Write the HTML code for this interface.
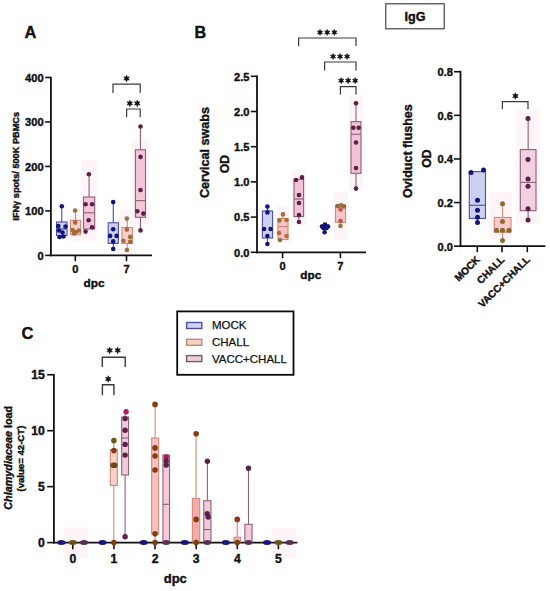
<!DOCTYPE html>
<html><head><meta charset="utf-8"><style>
html,body{margin:0;padding:0;background:#fff;}
body{width:550px;height:591px;overflow:hidden;}
svg{display:block;font-family:"Liberation Sans", sans-serif;}
</style></head><body>
<svg width="550" height="591" viewBox="0 0 550 591">
<rect width="550" height="591" fill="#fff"/>
<text x="24.6" y="38" font-size="16.4" font-weight="bold" text-anchor="start" fill="#111" stroke="#111" stroke-width="0.4"  style="">A</text>
<rect x="69" y="215" width="13" height="26" fill="#fef5f9" opacity="1"/>
<rect x="81" y="160" width="16" height="81" fill="#fef5f9" opacity="1"/>
<rect x="120" y="210" width="15" height="46" fill="#fef5f9" opacity="1"/>
<rect x="132" y="140" width="17" height="85" fill="#fef5f9" opacity="1"/>
<line x1="50.9" y1="76.8" x2="50.9" y2="256.3" stroke="#111" stroke-width="1.8" />
<line x1="45.2" y1="77.48000000000002" x2="50.9" y2="77.48000000000002" stroke="#111" stroke-width="1.6" />
<text x="43.6" y="81.78000000000002" font-size="11.1" font-weight="bold" text-anchor="end" fill="#111" stroke="#111" stroke-width="0.4"  style="">400</text>
<line x1="45.2" y1="121.96000000000001" x2="50.9" y2="121.96000000000001" stroke="#111" stroke-width="1.6" />
<text x="43.6" y="126.26" font-size="11.1" font-weight="bold" text-anchor="end" fill="#111" stroke="#111" stroke-width="0.4"  style="">300</text>
<line x1="45.2" y1="166.44" x2="50.9" y2="166.44" stroke="#111" stroke-width="1.6" />
<text x="43.6" y="170.74" font-size="11.1" font-weight="bold" text-anchor="end" fill="#111" stroke="#111" stroke-width="0.4"  style="">200</text>
<line x1="45.2" y1="210.92000000000002" x2="50.9" y2="210.92000000000002" stroke="#111" stroke-width="1.6" />
<text x="43.6" y="215.22000000000003" font-size="11.1" font-weight="bold" text-anchor="end" fill="#111" stroke="#111" stroke-width="0.4"  style="">100</text>
<line x1="45.2" y1="255.4" x2="50.9" y2="255.4" stroke="#111" stroke-width="1.6" />
<text x="43.6" y="259.7" font-size="11.1" font-weight="bold" text-anchor="end" fill="#111" stroke="#111" stroke-width="0.4"  style="">0</text>
<line x1="50" y1="255.4" x2="152" y2="255.4" stroke="#111" stroke-width="1.7" />
<line x1="75.3" y1="255.4" x2="75.3" y2="261.2" stroke="#111" stroke-width="1.6" />
<text x="75.3" y="273.2" font-size="11.1" font-weight="bold" text-anchor="middle" fill="#111" stroke="#111" stroke-width="0.4"  style="">0</text>
<line x1="126.5" y1="255.4" x2="126.5" y2="261.2" stroke="#111" stroke-width="1.6" />
<text x="126.5" y="273.2" font-size="11.1" font-weight="bold" text-anchor="middle" fill="#111" stroke="#111" stroke-width="0.4"  style="">7</text>
<text x="94" y="287.4" font-size="11.8" font-weight="bold" text-anchor="middle" fill="#111" stroke="#111" stroke-width="0.4"  style="">dpc</text>
<text transform="translate(15.4,166.3) rotate(-90)" x="0" y="3.31" font-size="9.2" font-weight="bold" text-anchor="middle" fill="#111" stroke="#111" stroke-width="0.4">IFNγ spots/ 500K PBMCs</text>
<line x1="61.75" y1="206.2" x2="61.75" y2="222" stroke="#4a4eaa" stroke-width="1.1" />
<line x1="61.75" y1="235.5" x2="61.75" y2="238" stroke="#4a4eaa" stroke-width="1.1" />
<rect x="56.5" y="222" width="10.5" height="13.5" fill="#cdcfef" stroke="#4a4eaa" stroke-width="1.1"/>
<line x1="56.5" y1="229" x2="67" y2="229" stroke="#4a4eaa" stroke-width="1.1" />
<circle cx="61.8" cy="206.2" r="2.3" fill="#14147a"/>
<circle cx="58.3" cy="226" r="2.3" fill="#14147a"/>
<circle cx="65.5" cy="226.5" r="2.3" fill="#14147a"/>
<circle cx="59" cy="230.5" r="2.3" fill="#14147a"/>
<circle cx="62.5" cy="232.5" r="2.3" fill="#14147a"/>
<circle cx="59.5" cy="237" r="2.3" fill="#14147a"/>
<circle cx="63.5" cy="236.5" r="2.3" fill="#14147a"/>
<line x1="75.5" y1="210.5" x2="75.5" y2="220.3" stroke="#d08a78" stroke-width="1.1" />
<rect x="70.5" y="220.3" width="10.0" height="14.399999999999977" fill="#f9d0cc" stroke="#d08a78" stroke-width="1.1"/>
<circle cx="75.1" cy="210.5" r="2.3" fill="#a86a38"/>
<circle cx="75.2" cy="222.6" r="2.3" fill="#a86a38"/>
<circle cx="72.5" cy="230" r="2.3" fill="#a86a38"/>
<circle cx="76" cy="232" r="2.3" fill="#a86a38"/>
<circle cx="79" cy="230.5" r="2.3" fill="#a86a38"/>
<circle cx="74" cy="233.5" r="2.3" fill="#a86a38"/>
<line x1="89.1" y1="174.3" x2="89.1" y2="197" stroke="#8e6078" stroke-width="1.1" />
<rect x="83.5" y="197" width="11.200000000000003" height="32" fill="#f3c6d9" stroke="#8e6078" stroke-width="1.1"/>
<line x1="83.5" y1="212.8" x2="94.7" y2="212.8" stroke="#8e6078" stroke-width="1.1" />
<circle cx="88.9" cy="174.3" r="2.3" fill="#5a2045"/>
<circle cx="85.6" cy="204.2" r="2.3" fill="#5a2045"/>
<circle cx="92.1" cy="204.2" r="2.3" fill="#5a2045"/>
<circle cx="88.6" cy="220.3" r="2.3" fill="#5a2045"/>
<circle cx="92.1" cy="227.3" r="2.3" fill="#5a2045"/>
<circle cx="85.6" cy="231.6" r="2.3" fill="#5a2045"/>
<line x1="113.30000000000001" y1="202.1" x2="113.30000000000001" y2="222.8" stroke="#4a4eaa" stroke-width="1.1" />
<line x1="113.30000000000001" y1="243.4" x2="113.30000000000001" y2="249" stroke="#4a4eaa" stroke-width="1.1" />
<rect x="108.2" y="222.8" width="10.200000000000003" height="20.599999999999994" fill="#cdcfef" stroke="#4a4eaa" stroke-width="1.1"/>
<circle cx="113.2" cy="202.1" r="2.3" fill="#14147a"/>
<circle cx="113.2" cy="229.3" r="2.3" fill="#14147a"/>
<circle cx="110.1" cy="235.9" r="2.3" fill="#14147a"/>
<circle cx="116.6" cy="235.9" r="2.3" fill="#14147a"/>
<circle cx="113.2" cy="241.4" r="2.3" fill="#14147a"/>
<circle cx="113.2" cy="249" r="2.3" fill="#14147a"/>
<line x1="127.25" y1="218.6" x2="127.25" y2="227.5" stroke="#d08a78" stroke-width="1.1" />
<line x1="127.25" y1="243.4" x2="127.25" y2="250" stroke="#d08a78" stroke-width="1.1" />
<rect x="122" y="227.5" width="10.5" height="15.900000000000006" fill="#f9d0cc" stroke="#d08a78" stroke-width="1.1"/>
<circle cx="126.9" cy="218.6" r="2.3" fill="#8f7a3a"/>
<circle cx="126.9" cy="229.6" r="2.3" fill="#a86a38"/>
<circle cx="130.2" cy="236.9" r="2.3" fill="#9a7035"/>
<circle cx="123.4" cy="240.8" r="2.3" fill="#a86a38"/>
<circle cx="130.2" cy="241.9" r="2.3" fill="#9a7035"/>
<circle cx="126.9" cy="250" r="2.3" fill="#a86a38"/>
<line x1="140.45" y1="126.5" x2="140.45" y2="149.8" stroke="#8e6078" stroke-width="1.1" />
<line x1="140.45" y1="217.3" x2="140.45" y2="230.4" stroke="#8e6078" stroke-width="1.1" />
<rect x="135.4" y="149.8" width="10.099999999999994" height="67.5" fill="#f3c6d9" stroke="#8e6078" stroke-width="1.1"/>
<line x1="135.4" y1="200.6" x2="145.5" y2="200.6" stroke="#8e6078" stroke-width="1.1" />
<circle cx="140.5" cy="126.5" r="2.3" fill="#5a2045"/>
<circle cx="140.5" cy="156.9" r="2.3" fill="#5a2045"/>
<circle cx="140.5" cy="190" r="2.3" fill="#5a2045"/>
<circle cx="137.3" cy="211.2" r="2.3" fill="#5a2045"/>
<circle cx="143.3" cy="213.6" r="2.3" fill="#5a2045"/>
<circle cx="140.5" cy="230.4" r="2.3" fill="#5a2045"/>
<polyline points="113,93 113,84.2 140.2,84.2 140.2,93" fill="none" stroke="#3a3a3a" stroke-width="1.2"/>
<polygon points="126.60,75.25 127.41,77.09 129.41,76.88 128.22,78.50 129.41,80.12 127.41,79.91 126.60,81.75 125.79,79.91 123.79,80.12 124.97,78.50 123.79,76.88 125.79,77.09" fill="#111" stroke="#111" stroke-width="0.5" stroke-linejoin="round"/>
<polyline points="126.6,117.3 126.6,109 140.2,109 140.2,117.3" fill="none" stroke="#3a3a3a" stroke-width="1.2"/>
<polygon points="129.80,100.15 130.61,101.99 132.61,101.78 131.43,103.40 132.61,105.03 130.61,104.81 129.80,106.65 128.99,104.81 126.99,105.03 128.18,103.40 126.99,101.78 128.99,101.99" fill="#111" stroke="#111" stroke-width="0.5" stroke-linejoin="round"/>
<polygon points="137.20,100.15 138.01,101.99 140.01,101.78 138.83,103.40 140.01,105.03 138.01,104.81 137.20,106.65 136.39,104.81 134.39,105.03 135.58,103.40 134.39,101.78 136.39,101.99" fill="#111" stroke="#111" stroke-width="0.5" stroke-linejoin="round"/>
<text x="194.6" y="37.7" font-size="16.2" font-weight="bold" text-anchor="start" fill="#111" stroke="#111" stroke-width="0.4"  style="">B</text>
<rect x="276" y="206" width="14" height="37" fill="#fef5f9" opacity="1"/>
<rect x="292" y="170" width="14" height="55" fill="#fef5f9" opacity="1"/>
<rect x="334" y="192" width="14" height="48" fill="#fef5f9" opacity="1"/>
<rect x="349" y="95" width="14" height="95" fill="#fef5f9" opacity="1"/>
<line x1="257" y1="75.4" x2="257" y2="253.2" stroke="#111" stroke-width="1.8" />
<line x1="250.8" y1="76.30000000000001" x2="257" y2="76.30000000000001" stroke="#111" stroke-width="1.6" />
<text x="249.4" y="80.50000000000001" font-size="11.1" font-weight="bold" text-anchor="end" fill="#111" stroke="#111" stroke-width="0.4"  style="">2.5</text>
<line x1="250.8" y1="111.5" x2="257" y2="111.5" stroke="#111" stroke-width="1.6" />
<text x="249.4" y="115.7" font-size="11.1" font-weight="bold" text-anchor="end" fill="#111" stroke="#111" stroke-width="0.4"  style="">2.0</text>
<line x1="250.8" y1="146.7" x2="257" y2="146.7" stroke="#111" stroke-width="1.6" />
<text x="249.4" y="150.89999999999998" font-size="11.1" font-weight="bold" text-anchor="end" fill="#111" stroke="#111" stroke-width="0.4"  style="">1.5</text>
<line x1="250.8" y1="181.9" x2="257" y2="181.9" stroke="#111" stroke-width="1.6" />
<text x="249.4" y="186.1" font-size="11.1" font-weight="bold" text-anchor="end" fill="#111" stroke="#111" stroke-width="0.4"  style="">1.0</text>
<line x1="250.8" y1="217.10000000000002" x2="257" y2="217.10000000000002" stroke="#111" stroke-width="1.6" />
<text x="249.4" y="221.3" font-size="11.1" font-weight="bold" text-anchor="end" fill="#111" stroke="#111" stroke-width="0.4"  style="">0.5</text>
<line x1="250.8" y1="252.3" x2="257" y2="252.3" stroke="#111" stroke-width="1.6" />
<text x="249.4" y="256.5" font-size="11.1" font-weight="bold" text-anchor="end" fill="#111" stroke="#111" stroke-width="0.4"  style="">0.0</text>
<line x1="256.1" y1="252.3" x2="366" y2="252.3" stroke="#111" stroke-width="1.8" />
<line x1="282.6" y1="252.3" x2="282.6" y2="258.2" stroke="#111" stroke-width="1.6" />
<text x="282.6" y="270" font-size="11.1" font-weight="bold" text-anchor="middle" fill="#111" stroke="#111" stroke-width="0.4"  style="">0</text>
<line x1="340.4" y1="252.3" x2="340.4" y2="258.2" stroke="#111" stroke-width="1.6" />
<text x="340.4" y="270" font-size="11.1" font-weight="bold" text-anchor="middle" fill="#111" stroke="#111" stroke-width="0.4"  style="">7</text>
<text x="310.8" y="278.6" font-size="11.8" font-weight="bold" text-anchor="middle" fill="#111" stroke="#111" stroke-width="0.4"  style="">dpc</text>
<text transform="translate(204.9,152.6) rotate(-90)" x="0" y="4.54" font-size="12.6" font-weight="bold" text-anchor="middle" fill="#111" stroke="#111" stroke-width="0.4">Cervical swabs</text>
<text transform="translate(224.2,164) rotate(-90)" x="0" y="4.39" font-size="12.2" font-weight="bold" text-anchor="middle" fill="#111" stroke="#111" stroke-width="0.4">OD</text>
<line x1="267.5" y1="206.6" x2="267.5" y2="211" stroke="#4a4eaa" stroke-width="1.1" />
<line x1="267.5" y1="238" x2="267.5" y2="244" stroke="#4a4eaa" stroke-width="1.1" />
<rect x="262.4" y="211" width="10.200000000000045" height="27" fill="#cdcfef" stroke="#4a4eaa" stroke-width="1.1"/>
<circle cx="267.4" cy="206.6" r="2.3" fill="#14147a"/>
<circle cx="267.4" cy="212.4" r="2.3" fill="#14147a"/>
<circle cx="264" cy="229" r="2.3" fill="#14147a"/>
<circle cx="270.6" cy="229" r="2.3" fill="#14147a"/>
<circle cx="267.4" cy="236" r="2.3" fill="#14147a"/>
<circle cx="267.4" cy="244" r="2.3" fill="#14147a"/>
<line x1="283.0" y1="214.4" x2="283.0" y2="218.6" stroke="#d08a78" stroke-width="1.1" />
<rect x="278" y="218.6" width="10" height="20.900000000000006" fill="#f8c2c6" stroke="#d08a78" stroke-width="1.1"/>
<line x1="278" y1="226.6" x2="288" y2="226.6" stroke="#d08a78" stroke-width="1.1" />
<circle cx="283" cy="214.4" r="2.3" fill="#b8683a"/>
<circle cx="279.5" cy="220.4" r="2.3" fill="#8a7a3a"/>
<circle cx="286.5" cy="220" r="2.3" fill="#b8683a"/>
<circle cx="279" cy="233" r="2.3" fill="#b8683a"/>
<circle cx="286.5" cy="236" r="2.3" fill="#b8683a"/>
<circle cx="280" cy="240" r="2.3" fill="#8a7a3a"/>
<line x1="298.8" y1="216.6" x2="298.8" y2="222" stroke="#8e6078" stroke-width="1.1" />
<rect x="294" y="179.3" width="9.600000000000023" height="37.29999999999998" fill="#f4c2d6" stroke="#8e6078" stroke-width="1.1"/>
<line x1="294" y1="199" x2="303.6" y2="199" stroke="#8e6078" stroke-width="1.1" />
<circle cx="296" cy="180" r="2.3" fill="#5a2045"/>
<circle cx="302" cy="177.4" r="2.3" fill="#5a2045"/>
<circle cx="299" cy="195" r="2.3" fill="#5a2045"/>
<circle cx="299" cy="203" r="2.3" fill="#5a2045"/>
<circle cx="299" cy="215" r="2.3" fill="#5a2045"/>
<circle cx="299" cy="222" r="2.3" fill="#5a2045"/>
<line x1="325.0" y1="228" x2="325.0" y2="232.3" stroke="#4a4eaa" stroke-width="1.1" />
<rect x="321.5" y="225" width="7.0" height="3" fill="#cdcfef" stroke="#4a4eaa" stroke-width="1.1"/>
<circle cx="322" cy="226.5" r="2.3" fill="#14147a"/>
<circle cx="325" cy="224.6" r="2.3" fill="#14147a"/>
<circle cx="328" cy="226.5" r="2.3" fill="#14147a"/>
<circle cx="323.5" cy="228" r="2.3" fill="#14147a"/>
<circle cx="326.5" cy="228" r="2.3" fill="#14147a"/>
<circle cx="324.6" cy="232.3" r="2.3" fill="#14147a"/>
<line x1="340.5" y1="222.3" x2="340.5" y2="226" stroke="#d08a78" stroke-width="1.1" />
<rect x="335.5" y="205.5" width="10.0" height="16.80000000000001" fill="#f9c4c8" stroke="#d08a78" stroke-width="1.1"/>
<circle cx="337.6" cy="206" r="2.3" fill="#8a6a3a"/>
<circle cx="341" cy="205.2" r="2.3" fill="#a86a40"/>
<circle cx="344" cy="206.4" r="2.3" fill="#8a6a3a"/>
<circle cx="340.5" cy="209.5" r="2.3" fill="#c05a48"/>
<circle cx="340.5" cy="221" r="2.3" fill="#c05a48"/>
<circle cx="340.5" cy="226" r="2.3" fill="#8a7a3a"/>
<line x1="356.0" y1="103.2" x2="356.0" y2="121.6" stroke="#8e6078" stroke-width="1.1" />
<line x1="356.0" y1="173.3" x2="356.0" y2="188.6" stroke="#8e6078" stroke-width="1.1" />
<rect x="351" y="121.6" width="10" height="51.70000000000002" fill="#f4c2d6" stroke="#8e6078" stroke-width="1.1"/>
<line x1="351" y1="134.3" x2="361" y2="134.3" stroke="#8e6078" stroke-width="1.1" />
<circle cx="356" cy="103.2" r="2.3" fill="#5a2045"/>
<circle cx="353.3" cy="127.8" r="2.3" fill="#5a2045"/>
<circle cx="358.7" cy="127.8" r="2.3" fill="#5a2045"/>
<circle cx="356" cy="142.5" r="2.3" fill="#5a2045"/>
<circle cx="356" cy="168.1" r="2.3" fill="#5a2045"/>
<circle cx="356" cy="188.6" r="2.3" fill="#5a2045"/>
<polyline points="298.6,46 298.6,38 356,38 356,46" fill="none" stroke="#3a3a3a" stroke-width="1.2"/>
<polygon points="320.00,29.35 320.76,31.08 322.64,30.88 321.52,32.40 322.64,33.92 320.76,33.72 320.00,35.45 319.24,33.72 317.36,33.92 318.48,32.40 317.36,30.87 319.24,31.08" fill="#111" stroke="#111" stroke-width="0.5" stroke-linejoin="round"/>
<polygon points="327.20,29.35 327.96,31.08 329.84,30.88 328.72,32.40 329.84,33.92 327.96,33.72 327.20,35.45 326.44,33.72 324.56,33.92 325.68,32.40 324.56,30.87 326.44,31.08" fill="#111" stroke="#111" stroke-width="0.5" stroke-linejoin="round"/>
<polygon points="334.40,29.35 335.16,31.08 337.04,30.88 335.92,32.40 337.04,33.92 335.16,33.72 334.40,35.45 333.64,33.72 331.76,33.92 332.88,32.40 331.76,30.87 333.64,31.08" fill="#111" stroke="#111" stroke-width="0.5" stroke-linejoin="round"/>
<polyline points="324.6,70.4 324.6,62 356,62 356,70.4" fill="none" stroke="#3a3a3a" stroke-width="1.2"/>
<polygon points="333.10,53.45 333.86,55.18 335.74,54.98 334.62,56.50 335.74,58.02 333.86,57.82 333.10,59.55 332.34,57.82 330.46,58.02 331.58,56.50 330.46,54.98 332.34,55.18" fill="#111" stroke="#111" stroke-width="0.5" stroke-linejoin="round"/>
<polygon points="340.10,53.45 340.86,55.18 342.74,54.98 341.62,56.50 342.74,58.02 340.86,57.82 340.10,59.55 339.34,57.82 337.46,58.02 338.58,56.50 337.46,54.98 339.34,55.18" fill="#111" stroke="#111" stroke-width="0.5" stroke-linejoin="round"/>
<polygon points="347.10,53.45 347.86,55.18 349.74,54.98 348.62,56.50 349.74,58.02 347.86,57.82 347.10,59.55 346.34,57.82 344.46,58.02 345.58,56.50 344.46,54.98 346.34,55.18" fill="#111" stroke="#111" stroke-width="0.5" stroke-linejoin="round"/>
<polyline points="340.4,94.4 340.4,86.6 356,86.6 356,94.4" fill="none" stroke="#3a3a3a" stroke-width="1.2"/>
<polygon points="341.20,77.55 341.96,79.28 343.84,79.07 342.72,80.60 343.84,82.12 341.96,81.92 341.20,83.65 340.44,81.92 338.56,82.12 339.68,80.60 338.56,79.07 340.44,79.28" fill="#111" stroke="#111" stroke-width="0.5" stroke-linejoin="round"/>
<polygon points="348.20,77.55 348.96,79.28 350.84,79.07 349.72,80.60 350.84,82.12 348.96,81.92 348.20,83.65 347.44,81.92 345.56,82.12 346.68,80.60 345.56,79.07 347.44,79.28" fill="#111" stroke="#111" stroke-width="0.5" stroke-linejoin="round"/>
<polygon points="355.20,77.55 355.96,79.28 357.84,79.07 356.72,80.60 357.84,82.12 355.96,81.92 355.20,83.65 354.44,81.92 352.56,82.12 353.68,80.60 352.56,79.07 354.44,79.28" fill="#111" stroke="#111" stroke-width="0.5" stroke-linejoin="round"/>
<rect x="385.8" y="3.8" width="58.4" height="25" fill="none" stroke="#333" stroke-width="1.1"/>
<text x="415" y="20.5" font-size="12.6" font-weight="bold" text-anchor="middle" fill="#111" stroke="#111" stroke-width="0.4"  style="">IgG</text>
<rect x="488.6" y="192.5" width="23.19999999999999" height="47.099999999999994" fill="#fef5f9" opacity="1"/>
<rect x="516" y="110" width="24" height="114" fill="#fef5f9" opacity="1"/>
<line x1="460.5" y1="70.8" x2="460.5" y2="247.1" stroke="#111" stroke-width="1.8" />
<line x1="454" y1="71.71999999999997" x2="460.5" y2="71.71999999999997" stroke="#111" stroke-width="1.6" />
<text x="453.0" y="76.01999999999997" font-size="11.1" font-weight="bold" text-anchor="end" fill="#111" stroke="#111" stroke-width="0.4"  style="">0.8</text>
<line x1="454" y1="115.34" x2="460.5" y2="115.34" stroke="#111" stroke-width="1.6" />
<text x="453.0" y="119.64" font-size="11.1" font-weight="bold" text-anchor="end" fill="#111" stroke="#111" stroke-width="0.4"  style="">0.6</text>
<line x1="454" y1="158.95999999999998" x2="460.5" y2="158.95999999999998" stroke="#111" stroke-width="1.6" />
<text x="453.0" y="163.26" font-size="11.1" font-weight="bold" text-anchor="end" fill="#111" stroke="#111" stroke-width="0.4"  style="">0.4</text>
<line x1="454" y1="202.57999999999998" x2="460.5" y2="202.57999999999998" stroke="#111" stroke-width="1.6" />
<text x="453.0" y="206.88" font-size="11.1" font-weight="bold" text-anchor="end" fill="#111" stroke="#111" stroke-width="0.4"  style="">0.2</text>
<line x1="454" y1="246.2" x2="460.5" y2="246.2" stroke="#111" stroke-width="1.6" />
<text x="453.0" y="250.5" font-size="11.1" font-weight="bold" text-anchor="end" fill="#111" stroke="#111" stroke-width="0.4"  style="">0.0</text>
<line x1="459.6" y1="246.2" x2="545.4" y2="246.2" stroke="#111" stroke-width="1.8" />
<line x1="477.3" y1="246.2" x2="477.3" y2="252.2" stroke="#111" stroke-width="1.6" />
<line x1="502" y1="246.2" x2="502" y2="252.2" stroke="#111" stroke-width="1.6" />
<line x1="527.3" y1="246.2" x2="527.3" y2="252.2" stroke="#111" stroke-width="1.6" />
<text transform="translate(480.5,260.3) rotate(-45)" x="0" y="0" font-size="10.1" font-weight="bold" text-anchor="end" fill="#111" stroke="#111" stroke-width="0.4">MOCK</text>
<text transform="translate(505.2,260.3) rotate(-45)" x="0" y="0" font-size="10.1" font-weight="bold" text-anchor="end" fill="#111" stroke="#111" stroke-width="0.4">CHALL</text>
<text transform="translate(530.5,260.3) rotate(-45)" x="0" y="0" font-size="10.1" font-weight="bold" text-anchor="end" fill="#111" stroke="#111" stroke-width="0.4">VACC+CHALL</text>
<text transform="translate(407.5,151.1) rotate(-90)" x="0" y="4.50" font-size="12.5" font-weight="bold" text-anchor="middle" fill="#111" stroke="#111" stroke-width="0.4">Oviduct flushes</text>
<text transform="translate(427.1,158.6) rotate(-90)" x="0" y="4.39" font-size="12.2" font-weight="bold" text-anchor="middle" fill="#111" stroke="#111" stroke-width="0.4">OD</text>
<line x1="477.4" y1="218.4" x2="477.4" y2="222.6" stroke="#4a4eaa" stroke-width="1.1" />
<rect x="469.3" y="171.6" width="16.19999999999999" height="46.80000000000001" fill="#cdcfef" stroke="#4a4eaa" stroke-width="1.1"/>
<line x1="469.3" y1="205.3" x2="485.5" y2="205.3" stroke="#4a4eaa" stroke-width="1.1" />
<circle cx="471" cy="172.5" r="2.5" fill="#14147a"/>
<circle cx="483.5" cy="170" r="2.5" fill="#14147a"/>
<circle cx="477.5" cy="200.2" r="2.5" fill="#14147a"/>
<circle cx="477.5" cy="210.2" r="2.5" fill="#14147a"/>
<circle cx="477.5" cy="217.2" r="2.5" fill="#14147a"/>
<circle cx="477.5" cy="222.6" r="2.5" fill="#14147a"/>
<line x1="502.65" y1="203.7" x2="502.65" y2="217.5" stroke="#d08a78" stroke-width="1.1" />
<line x1="502.65" y1="232.3" x2="502.65" y2="240.4" stroke="#d08a78" stroke-width="1.1" />
<rect x="494.3" y="217.5" width="16.69999999999999" height="14.800000000000011" fill="#f9cacc" stroke="#d08a78" stroke-width="1.1"/>
<line x1="494.3" y1="231.2" x2="511" y2="231.2" stroke="#d08a78" stroke-width="1.1" />
<circle cx="502.5" cy="203.7" r="2.5" fill="#8f6a30"/>
<circle cx="502.5" cy="221.5" r="2.5" fill="#8f6a30"/>
<circle cx="496.5" cy="230.3" r="2.5" fill="#8f6a30"/>
<circle cx="502.5" cy="230.3" r="2.5" fill="#8f6a30"/>
<circle cx="509" cy="230.3" r="2.5" fill="#8f6a30"/>
<circle cx="502.5" cy="240.4" r="2.5" fill="#8f6a30"/>
<line x1="528.15" y1="118.4" x2="528.15" y2="149.6" stroke="#8e6078" stroke-width="1.1" />
<line x1="528.15" y1="210.7" x2="528.15" y2="220" stroke="#8e6078" stroke-width="1.1" />
<rect x="520.3" y="149.6" width="15.700000000000045" height="61.099999999999994" fill="#f2d0df" stroke="#8e6078" stroke-width="1.1"/>
<line x1="520.3" y1="182.4" x2="536" y2="182.4" stroke="#8e6078" stroke-width="1.1" />
<circle cx="528" cy="118.4" r="2.5" fill="#5a2045"/>
<circle cx="528" cy="159.4" r="2.5" fill="#5a2045"/>
<circle cx="528" cy="179" r="2.5" fill="#5a2045"/>
<circle cx="528" cy="186.3" r="2.5" fill="#5a2045"/>
<circle cx="528" cy="208.7" r="2.5" fill="#5a2045"/>
<circle cx="528" cy="220" r="2.5" fill="#5a2045"/>
<polyline points="502.4,109 502.4,101.6 528,101.6 528,109" fill="none" stroke="#3a3a3a" stroke-width="1.2"/>
<polygon points="515.40,92.75 516.21,94.59 518.21,94.38 517.02,96.00 518.21,97.62 516.21,97.41 515.40,99.25 514.59,97.41 512.59,97.62 513.77,96.00 512.59,94.38 514.59,94.59" fill="#111" stroke="#111" stroke-width="0.5" stroke-linejoin="round"/>
<text x="21.6" y="339.2" font-size="16.5" font-weight="bold" text-anchor="start" fill="#111" stroke="#111" stroke-width="0.4"  style="">C</text>
<rect x="63.8" y="527.4" width="24.200000000000003" height="31.200000000000045" fill="#fef5f9" opacity="1"/>
<rect x="231.8" y="512" width="10.0" height="30" fill="#fef5f9" opacity="1"/>
<rect x="272" y="528" width="24" height="30" fill="#fef5f9" opacity="1"/>
<line x1="53.9" y1="373.9" x2="53.9" y2="543.4" stroke="#111" stroke-width="1.8" />
<line x1="47.2" y1="374.75" x2="53.9" y2="374.75" stroke="#111" stroke-width="1.6" />
<text x="44.8" y="379.15" font-size="12.2" font-weight="bold" text-anchor="end" fill="#111" stroke="#111" stroke-width="0.4"  style="">15</text>
<line x1="47.2" y1="430.70000000000005" x2="53.9" y2="430.70000000000005" stroke="#111" stroke-width="1.6" />
<text x="44.8" y="435.1" font-size="12.2" font-weight="bold" text-anchor="end" fill="#111" stroke="#111" stroke-width="0.4"  style="">10</text>
<line x1="47.2" y1="486.65000000000003" x2="53.9" y2="486.65000000000003" stroke="#111" stroke-width="1.6" />
<text x="44.8" y="491.05" font-size="12.2" font-weight="bold" text-anchor="end" fill="#111" stroke="#111" stroke-width="0.4"  style="">5</text>
<line x1="47.2" y1="542.6" x2="53.9" y2="542.6" stroke="#111" stroke-width="1.6" />
<text x="44.8" y="547.0" font-size="12.2" font-weight="bold" text-anchor="end" fill="#111" stroke="#111" stroke-width="0.4"  style="">0</text>
<line x1="53.0" y1="542.6" x2="297.3" y2="542.6" stroke="#111" stroke-width="1.8" />
<line x1="72.8" y1="542.6" x2="72.8" y2="549.2" stroke="#111" stroke-width="1.6" />
<text x="72.8" y="563" font-size="12.2" font-weight="bold" text-anchor="middle" fill="#111" stroke="#111" stroke-width="0.4"  style="">0</text>
<line x1="113.91999999999999" y1="542.6" x2="113.91999999999999" y2="549.2" stroke="#111" stroke-width="1.6" />
<text x="113.91999999999999" y="563" font-size="12.2" font-weight="bold" text-anchor="middle" fill="#111" stroke="#111" stroke-width="0.4"  style="">1</text>
<line x1="155.04" y1="542.6" x2="155.04" y2="549.2" stroke="#111" stroke-width="1.6" />
<text x="155.04" y="563" font-size="12.2" font-weight="bold" text-anchor="middle" fill="#111" stroke="#111" stroke-width="0.4"  style="">2</text>
<line x1="196.15999999999997" y1="542.6" x2="196.15999999999997" y2="549.2" stroke="#111" stroke-width="1.6" />
<text x="196.15999999999997" y="563" font-size="12.2" font-weight="bold" text-anchor="middle" fill="#111" stroke="#111" stroke-width="0.4"  style="">3</text>
<line x1="237.27999999999997" y1="542.6" x2="237.27999999999997" y2="549.2" stroke="#111" stroke-width="1.6" />
<text x="237.27999999999997" y="563" font-size="12.2" font-weight="bold" text-anchor="middle" fill="#111" stroke="#111" stroke-width="0.4"  style="">4</text>
<line x1="278.4" y1="542.6" x2="278.4" y2="549.2" stroke="#111" stroke-width="1.6" />
<text x="278.4" y="563" font-size="12.2" font-weight="bold" text-anchor="middle" fill="#111" stroke="#111" stroke-width="0.4"  style="">5</text>
<text x="175.3" y="583.4" font-size="13" font-weight="bold" text-anchor="middle" fill="#111" stroke="#111" stroke-width="0.4"  style="">dpc</text>
<text transform="translate(7.7,457.8) rotate(-90)" x="0" y="3.9" font-size="10.8" font-weight="bold" text-anchor="middle" fill="#111" stroke="#111" stroke-width="0.4"><tspan font-style="italic">Chlamydiaceae</tspan> load</text>
<text transform="translate(20.3,458.6) rotate(-90)" x="0" y="3.46" font-size="9.6" font-weight="bold" text-anchor="middle" fill="#111" stroke="#111" stroke-width="0.4">(value= 42-CT)</text>
<line x1="113.82" y1="440.6" x2="113.82" y2="449.6" stroke="#d08a78" stroke-width="1.1" />
<line x1="113.82" y1="485.4" x2="113.82" y2="542.6" stroke="#d08a78" stroke-width="1.1" />
<rect x="110.32" y="449.6" width="7.0" height="35.799999999999955" fill="#f8d2c8" stroke="#d08a78" stroke-width="1.1"/>
<line x1="125.11999999999998" y1="414" x2="125.11999999999998" y2="417" stroke="#8e6078" stroke-width="1.1" />
<line x1="125.11999999999998" y1="475" x2="125.11999999999998" y2="536.8" stroke="#8e6078" stroke-width="1.1" />
<rect x="121.71999999999998" y="417" width="6.799999999999997" height="58" fill="#f1cadb" stroke="#8e6078" stroke-width="1.1"/>
<line x1="121.71999999999998" y1="438" x2="128.51999999999998" y2="438" stroke="#8e6078" stroke-width="1.1" />
<line x1="155.14" y1="404.4" x2="155.14" y2="438" stroke="#d08a78" stroke-width="1.1" />
<line x1="155.14" y1="534" x2="155.14" y2="542.6" stroke="#d08a78" stroke-width="1.1" />
<rect x="151.64" y="438" width="7.0" height="96" fill="#f9c0c0" stroke="#d08a78" stroke-width="1.1"/>
<rect x="162.93999999999997" y="455" width="6.600000000000023" height="87" fill="#f1cadb" stroke="#8e6078" stroke-width="1.1"/>
<line x1="162.93999999999997" y1="504.3" x2="169.54" y2="504.3" stroke="#8e6078" stroke-width="1.1" />
<line x1="196.05999999999995" y1="433.7" x2="196.05999999999995" y2="498.5" stroke="#d08a78" stroke-width="1.1" />
<rect x="192.35999999999996" y="498.5" width="7.400000000000006" height="43.5" fill="#f7a9a9" stroke="#d08a78" stroke-width="1.1"/>
<line x1="207.35999999999996" y1="461.3" x2="207.35999999999996" y2="500.7" stroke="#8e6078" stroke-width="1.1" />
<rect x="203.75999999999996" y="500.7" width="7.199999999999989" height="41.30000000000001" fill="#f1cadb" stroke="#8e6078" stroke-width="1.1"/>
<line x1="203.75999999999996" y1="529.5" x2="210.95999999999995" y2="529.5" stroke="#8e6078" stroke-width="1.1" />
<line x1="237.27999999999997" y1="519.4" x2="237.27999999999997" y2="537.3" stroke="#d08a78" stroke-width="1.1" />
<rect x="233.97999999999996" y="537.3" width="6.600000000000023" height="4.7000000000000455" fill="#f7b0b0" stroke="#d08a78" stroke-width="1.1"/>
<line x1="248.47999999999996" y1="468.2" x2="248.47999999999996" y2="524.3" stroke="#8e6078" stroke-width="1.1" />
<rect x="244.87999999999997" y="524.3" width="7.199999999999989" height="17.700000000000045" fill="#f1cadb" stroke="#8e6078" stroke-width="1.1"/>
<ellipse cx="61.4" cy="542.6" rx="4.1" ry="2.5" fill="#16167e"/>
<ellipse cx="72.8" cy="542.6" rx="4.1" ry="2.5" fill="#6a5218"/>
<ellipse cx="84.0" cy="542.6" rx="4.1" ry="2.5" fill="#5a3050"/>
<ellipse cx="102.51999999999998" cy="542.6" rx="4.1" ry="2.5" fill="#16167e"/>
<circle cx="113.91999999999999" cy="542.6" r="2.8" fill="#7a4012"/>
<ellipse cx="143.64" cy="542.6" rx="4.1" ry="2.5" fill="#16167e"/>
<circle cx="155.04" cy="542.6" r="2.8" fill="#7a4012"/>
<ellipse cx="166.23999999999998" cy="542.6" rx="3.8" ry="2.5" fill="#5a3050"/>
<ellipse cx="184.75999999999996" cy="542.6" rx="4.1" ry="2.5" fill="#16167e"/>
<circle cx="196.15999999999997" cy="542.6" r="2.8" fill="#7a4012"/>
<ellipse cx="207.35999999999996" cy="542.6" rx="3.8" ry="2.5" fill="#5a3050"/>
<ellipse cx="225.87999999999997" cy="542.6" rx="4.1" ry="2.5" fill="#16167e"/>
<circle cx="237.27999999999997" cy="542.6" r="2.8" fill="#7a4012"/>
<ellipse cx="248.47999999999996" cy="542.6" rx="3.8" ry="2.5" fill="#5a3050"/>
<ellipse cx="267.0" cy="542.6" rx="4.1" ry="2.5" fill="#16167e"/>
<ellipse cx="278.4" cy="542.6" rx="4.1" ry="2.5" fill="#6a5218"/>
<ellipse cx="289.59999999999997" cy="542.6" rx="4.1" ry="2.5" fill="#5a3050"/>
<circle cx="113.91999999999999" cy="440.6" r="2.8" fill="#6a5a12"/>
<circle cx="113.91999999999999" cy="450.6" r="2.8" fill="#8a3a12"/>
<circle cx="113.11999999999999" cy="465.3" r="2.8" fill="#7a4a12"/>
<circle cx="114.71999999999998" cy="465.3" r="2.8" fill="#6a4a12"/>
<circle cx="126.11999999999999" cy="411.8" r="2.7" fill="#b02060"/>
<circle cx="125.11999999999999" cy="418.6" r="2.7" fill="#5a2045"/>
<circle cx="125.11999999999999" cy="430.2" r="2.7" fill="#5a2045"/>
<circle cx="125.11999999999999" cy="444.4" r="2.7" fill="#5a2045"/>
<circle cx="125.11999999999999" cy="455.1" r="2.7" fill="#5a2045"/>
<circle cx="125.11999999999999" cy="536.8" r="2.7" fill="#5a2045"/>
<circle cx="155.04" cy="404.4" r="2.8" fill="#8a3a12"/>
<circle cx="155.04" cy="447.9" r="2.8" fill="#8a3a12"/>
<circle cx="155.04" cy="456" r="2.8" fill="#8a3a12"/>
<circle cx="155.04" cy="470" r="2.8" fill="#8a3a12"/>
<circle cx="155.04" cy="533.7" r="2.8" fill="#8a3a12"/>
<circle cx="166.23999999999998" cy="457" r="2.7" fill="#a02060"/>
<circle cx="166.23999999999998" cy="461" r="2.7" fill="#5a2045"/>
<circle cx="166.23999999999998" cy="465" r="2.7" fill="#5a2045"/>
<circle cx="196.15999999999997" cy="433.7" r="2.8" fill="#8a3a12"/>
<circle cx="196.15999999999997" cy="519.4" r="2.8" fill="#8a3a12"/>
<circle cx="207.35999999999996" cy="461.3" r="2.7" fill="#5a2045"/>
<circle cx="207.15999999999997" cy="513.7" r="2.7" fill="#5a2045"/>
<circle cx="208.15999999999997" cy="517" r="2.7" fill="#5a2045"/>
<circle cx="237.27999999999997" cy="519.4" r="2.8" fill="#8a3a12"/>
<circle cx="248.47999999999996" cy="468.2" r="2.7" fill="#5a2045"/>
<polyline points="102.3,367 102.3,357.3 125.2,357.3 125.2,367" fill="none" stroke="#3a3a3a" stroke-width="1.4"/>
<polygon points="109.70,347.15 110.51,348.99 112.51,348.77 111.33,350.40 112.51,352.02 110.51,351.81 109.70,353.65 108.89,351.81 106.89,352.02 108.08,350.40 106.89,348.77 108.89,348.99" fill="#111" stroke="#111" stroke-width="0.5" stroke-linejoin="round"/>
<polygon points="117.70,347.15 118.51,348.99 120.51,348.77 119.33,350.40 120.51,352.02 118.51,351.81 117.70,353.65 116.89,351.81 114.89,352.02 116.08,350.40 114.89,348.77 116.89,348.99" fill="#111" stroke="#111" stroke-width="0.5" stroke-linejoin="round"/>
<polyline points="102.4,395.3 102.4,384.8 113.9,384.8 113.9,395.3" fill="none" stroke="#3a3a3a" stroke-width="1.4"/>
<polygon points="108.20,375.75 109.01,377.59 111.01,377.38 109.83,379.00 111.01,380.62 109.01,380.41 108.20,382.25 107.39,380.41 105.39,380.62 106.58,379.00 105.39,377.38 107.39,377.59" fill="#111" stroke="#111" stroke-width="0.5" stroke-linejoin="round"/>
<rect x="177.2" y="311.4" width="116.3" height="63.4" fill="#fff" stroke="#0a0a0a" stroke-width="1.8"/>
<rect x="186.6" y="322.5" width="15.2" height="6" fill="#d2d2f4" stroke="#4e4ea0" stroke-width="1.4"/>
<text x="212" y="329.4" font-size="11.5" font-weight="normal" text-anchor="start" fill="#111"  stroke="#111" stroke-width="0.25" style="">MOCK</text>
<rect x="186.6" y="339.3" width="15.2" height="6" fill="#f5d2c4" stroke="#b88c78" stroke-width="1.4"/>
<text x="212" y="346.2" font-size="11.5" font-weight="normal" text-anchor="start" fill="#111"  stroke="#111" stroke-width="0.25" style="">CHALL</text>
<rect x="186.6" y="355.6" width="15.2" height="6" fill="#e8d0dc" stroke="#76586a" stroke-width="1.4"/>
<text x="212" y="362.5" font-size="11.5" font-weight="normal" text-anchor="start" fill="#111"  stroke="#111" stroke-width="0.25" style="">VACC+CHALL</text>
</svg>
</body></html>
